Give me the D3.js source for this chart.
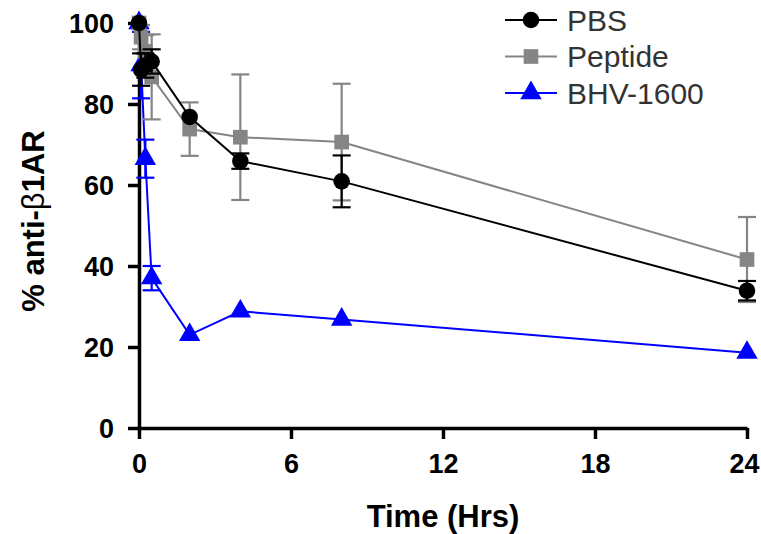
<!DOCTYPE html>
<html>
<head>
<meta charset="utf-8">
<script src="https://cdn.jsdelivr.net/npm/d3@7"></script>
<style>
  body { margin: 0; background: #fff; }
  svg { display: block; font-family: "Liberation Sans", Arial, sans-serif; }
</style>
</head>
<body>
<div class="chart"></div>
<script>
'use strict';

// sampling times (hours)
const times = [0, 0.083, 0.25, 0.5, 2, 4, 8, 24];

// % anti-b1AR, mean and error
const pbs = [100, 88.5, 89.5, 90.5, 76.8, 65.9, 60.9, 33.9];
const pbsErr = [0, 4, 3, 3, 0, 1.9, 6.4, 2.4];
const peptide = [100, 96.5, 93, 86.7, 73.8, 71.8, 70.6, 41.6];
const peptideErr = [0, 3, 4, 10.5, 6.6, 15.5, 14.4, 10.5];
const bhv = [100, 89.6, 66.5, 37, 23, 28.8, 26.8, 18.6];
const bhvErr = [0, 8.2, 4.7, 3, 0, 0, 0, 0];

const xTicks = [0, 6, 12, 18, 24];
const yTicks = [0, 20, 40, 60, 80, 100];

(function() {
    const width = 761, height = 534;
    const margin = {top: 23, right: 14, bottom: 106, left: 139};
    const plotW = width - margin.left - margin.right,
          plotH = height - margin.top - margin.bottom;

    const svg = d3.select('.chart').append('svg')
        .attr('width', width).attr('height', height);
    const g = svg.append('g')
        .attr('transform', 'translate(' + margin.left + ',' + margin.top + ')');

    const x = d3.scaleLinear().domain([0, 24]).range([0, plotW]);
    const y = d3.scaleLinear().domain([0, 100]).range([plotH, 0]);

    // axes
    const xAxis = g.append('g')
        .attr('transform', 'translate(0,' + plotH + ')')
        .call(d3.axisBottom(x).tickValues(xTicks).tickSize(11).tickSizeOuter(0).tickPadding(15));
    const yAxis = g.append('g')
        .call(d3.axisLeft(y).tickValues(yTicks).tickSize(11).tickSizeOuter(0).tickPadding(14));

    [xAxis, yAxis].forEach(function(ax) {
        ax.select('.domain').attr('stroke', '#000').attr('stroke-width', 3.5);
        ax.selectAll('.tick line').attr('stroke', '#000').attr('stroke-width', 3.5);
        ax.selectAll('.tick text')
            .attr('fill', '#000')
            .style('font-size', '27px')
            .style('font-weight', 'bold')
            .style('font-family', '"Liberation Sans", Arial, sans-serif');
    });
    yAxis.selectAll('.tick text').attr('dy', '0.36em');
    // last label sits right at the edge
    xAxis.selectAll('.tick text').filter(function(d) { return d === 24; }).attr('dx', -3);

    // axis titles
    svg.append('text')
        .attr('x', margin.left + x(12) - 0)
        .attr('y', 527)
        .attr('text-anchor', 'middle')
        .style('font-size', '31px')
        .style('font-weight', 'bold')
        .text('Time (Hrs)');

    const yTitle = svg.append('text')
        .attr('transform', 'translate(44,221) rotate(-90)')
        .attr('text-anchor', 'middle')
        .style('font-size', '31px')
        .style('font-weight', 'bold');
    yTitle.append('tspan').text('% anti-');
    yTitle.append('tspan').style('font-weight', 'normal').text('\u03b2');
    yTitle.append('tspan').text('1AR');

    const series = [
        {name: 'BHV-1600', vals: bhv, err: bhvErr, color: '#0000ff', shape: d3.symbolTriangle, size: 200},
        {name: 'Peptide', vals: peptide, err: peptideErr, color: '#858585', shape: d3.symbolSquare, size: 215},
        {name: 'PBS', vals: pbs, err: pbsErr, color: '#000000', shape: d3.symbolCircle, size: 215}
    ];

    const line = d3.line()
        .x(function(d) { return x(d.t); })
        .y(function(d) { return y(d.v); });

    series.forEach(function(s) {
        const pts = times.map(function(t, i) { return {t: t, v: s.vals[i], e: s.err[i]}; });
        const sg = g.append('g');

        // error bars
        const eb = sg.selectAll('.err').data(pts.filter(function(d) { return d.e > 0; }))
            .enter().append('g')
            .attr('stroke', s.color).attr('stroke-width', 2.2);
        eb.append('line')
            .attr('x1', function(d) { return x(d.t); })
            .attr('x2', function(d) { return x(d.t); })
            .attr('y1', function(d) { return y(d.v + d.e); })
            .attr('y2', function(d) { return y(d.v - d.e); });
        [1, -1].forEach(function(sign) {
            eb.append('line')
                .attr('x1', function(d) { return x(d.t) - 9; })
                .attr('x2', function(d) { return x(d.t) + 9; })
                .attr('y1', function(d) { return y(d.v + sign * d.e); })
                .attr('y2', function(d) { return y(d.v + sign * d.e); });
        });

        sg.append('path')
            .datum(pts)
            .attr('d', line)
            .attr('fill', 'none')
            .attr('stroke', s.color)
            .attr('stroke-width', 2);

        sg.selectAll('.pt').data(pts).enter().append('path')
            .attr('d', d3.symbol().type(s.shape).size(s.size))
            .attr('transform', function(d) { return 'translate(' + x(d.t) + ',' + y(d.v) + ')'; })
            .attr('fill', s.color);
    });

    // legend
    const legend = svg.append('g');
    const legendRows = series.slice().reverse();
    legendRows.forEach(function(s, i) {
        const ly = 20 + i * 36.5;
        legend.append('line')
            .attr('x1', 505).attr('x2', 557)
            .attr('y1', ly).attr('y2', ly)
            .attr('stroke', s.color).attr('stroke-width', 2);
        legend.append('path')
            .attr('d', d3.symbol().type(s.shape).size(s.size))
            .attr('transform', 'translate(531,' + ly + ')')
            .attr('fill', s.color);
        legend.append('text')
            .attr('x', 567).attr('y', ly)
            .attr('dy', '0.36em')
            .attr('fill', '#333')
            .style('font-size', '30px')
            .text(s.name);
    });
})();
</script>
</body>
</html>
